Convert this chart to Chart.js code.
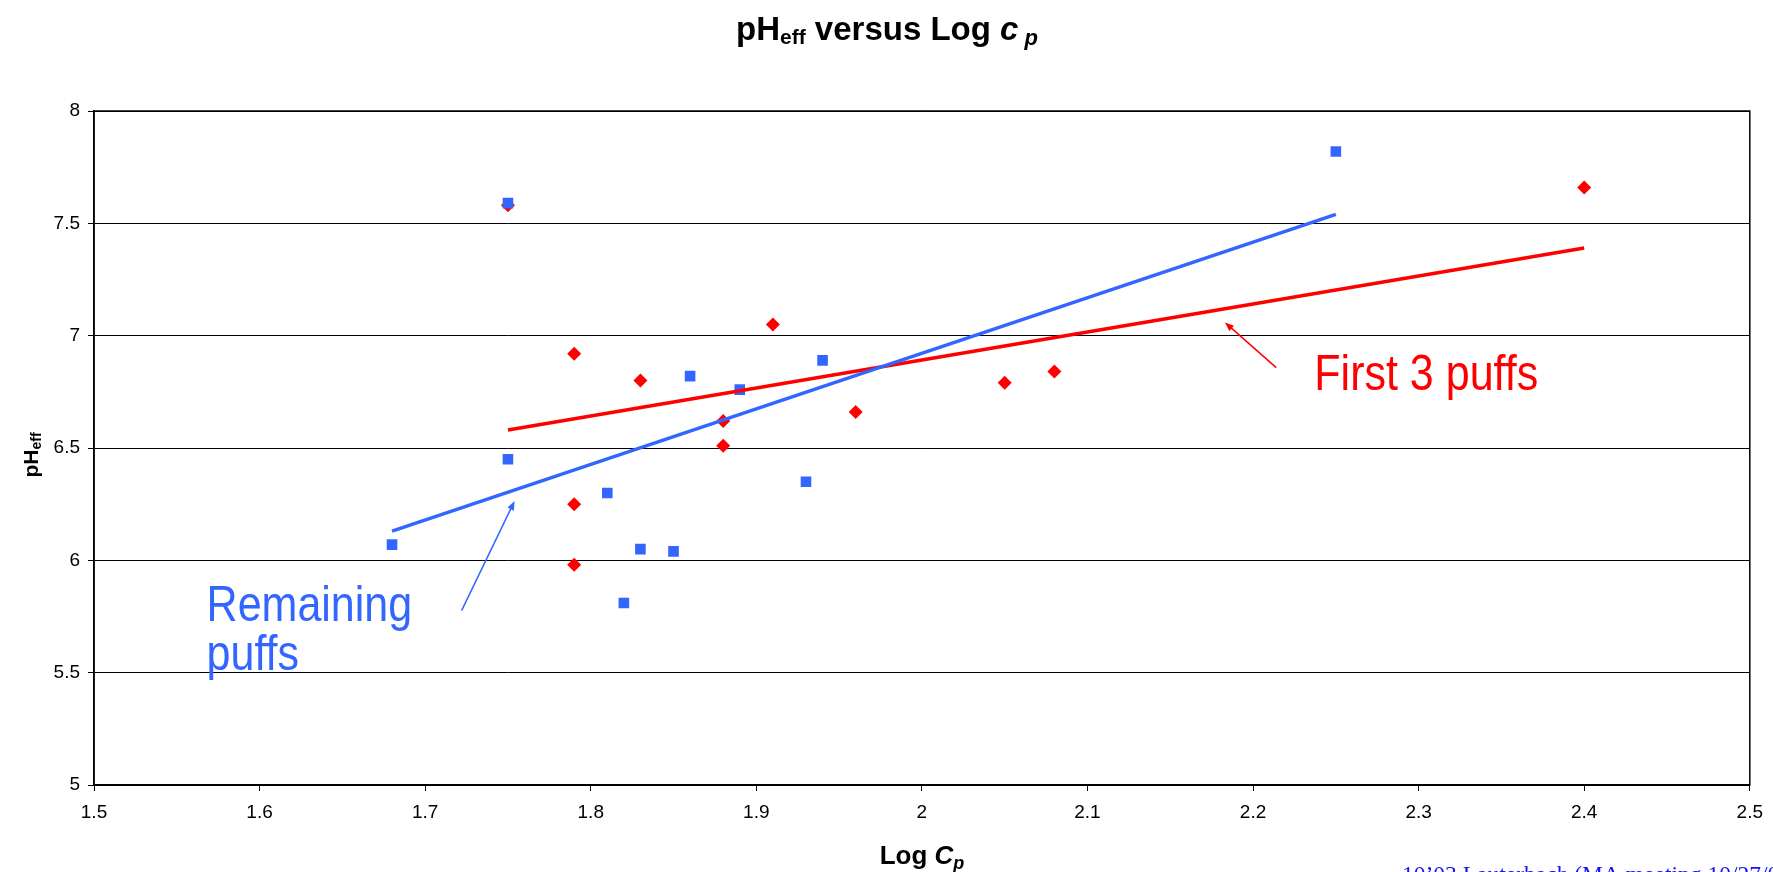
<!DOCTYPE html>
<html>
<head>
<meta charset="utf-8">
<script src="https://cdn.jsdelivr.net/npm/chart.js@4"></script>
<style>
    html, body { margin: 0; padding: 0; background: #fff; }
    #box { width: 1773px; height: 872px; position: relative; }
</style>
</head>
<body>
<div id="box"><canvas id="chart1"></canvas></div>
<script>
// remaining puffs (blue squares)
const remaining_x = [1.68, 1.75, 1.75, 1.81, 1.82, 1.83, 1.85, 1.86, 1.89, 1.93, 1.94, 2.25];
const remaining_y = [6.07, 7.59, 6.45, 6.30, 5.81, 6.05, 6.04, 6.82, 6.76, 6.35, 6.89, 7.82];
// first 3 puffs (red diamonds)
const first3_x = [1.75, 1.79, 1.79, 1.79, 1.83, 1.88, 1.88, 1.91, 1.96, 2.05, 2.08, 2.40];
const first3_y = [7.58, 6.92, 6.25, 5.98, 6.80, 6.62, 6.51, 7.05, 6.66, 6.79, 6.84, 7.66];
// trend lines (end points)
const remaining_trend_x = [1.68, 2.25];
const remaining_trend_y = [6.13, 7.54];
const first3_trend_x = [1.75, 2.40];
const first3_trend_y = [6.58, 7.39];
// axis ticks
const x_min = 1.5, x_max = 2.5, x_step = 0.1;
const y_min = 5, y_max = 8, y_step = 0.5;

const BLUE = 'rgb(51, 102, 255)';
const RED = 'rgb(255, 0, 0)';
const SANS = '"Liberation Sans", Arial, sans-serif';

function to_points(xs, ys) {
    let pts = [];
    for (let i = 0; i < xs.length; i++) {
        pts.push({ x: xs[i], y: ys[i] });
    }
    return pts;
}

// draws a run of [text, font, baseline shift] pieces, centred on cx
function draw_rich(ctx, parts, cx, cy) {
    let total = 0;
    for (const p of parts) {
        ctx.font = p[1];
        total += ctx.measureText(p[0]).width;
    }
    let x = cx - total / 2;
    ctx.textAlign = 'left';
    ctx.textBaseline = 'alphabetic';
    for (const p of parts) {
        ctx.font = p[1];
        ctx.fillText(p[0], x, cy + p[2]);
        x += ctx.measureText(p[0]).width;
    }
}

function arrow(ctx, x1, y1, x2, y2, color) {
    const ang = Math.atan2(y2 - y1, x2 - x1);
    ctx.strokeStyle = color;
    ctx.fillStyle = color;
    ctx.lineWidth = 1.5;
    ctx.beginPath();
    ctx.moveTo(x1, y1);
    ctx.lineTo(x2 - 6 * Math.cos(ang), y2 - 6 * Math.sin(ang));
    ctx.stroke();
    ctx.beginPath();
    ctx.moveTo(x2, y2);
    ctx.lineTo(x2 - 9 * Math.cos(ang) + 3.5 * Math.sin(ang), y2 - 9 * Math.sin(ang) - 3.5 * Math.cos(ang));
    ctx.lineTo(x2 - 9 * Math.cos(ang) - 3.5 * Math.sin(ang), y2 - 9 * Math.sin(ang) + 3.5 * Math.cos(ang));
    ctx.closePath();
    ctx.fill();
}

function condensed_text(ctx, text, x, y, size, color) {
    ctx.save();
    ctx.translate(x, y);
    ctx.scale(0.86, 1);
    ctx.font = size + 'px ' + SANS;
    ctx.fillStyle = color;
    ctx.textAlign = 'left';
    ctx.textBaseline = 'alphabetic';
    ctx.fillText(text, 0, 0);
    ctx.restore();
}

const extras = {
    id: 'extras',
    afterDraw(chart) {
        const ctx = chart.ctx;
        const a = chart.chartArea;
        const xs = chart.scales.x;
        const ys = chart.scales.y;
        ctx.save();
        // plot frame
        ctx.strokeStyle = '#000';
        ctx.lineWidth = 1.5;
        ctx.strokeRect(a.left, a.top, a.right - a.left, a.bottom - a.top);

        ctx.fillStyle = '#000';
        // title
        draw_rich(ctx, [
            ['pH', 'bold 33px ' + SANS, 0],
            ['eff', 'bold 21px ' + SANS, 4],
            [' versus Log ', 'bold 33px ' + SANS, 0],
            ['c', 'italic bold 33px ' + SANS, 0],
            [' p', 'italic bold 22px ' + SANS, 5]
        ], 887, 40);
        // x axis title
        draw_rich(ctx, [
            ['Log ', 'bold 26px ' + SANS, 0],
            ['C', 'italic bold 26px ' + SANS, 0],
            ['p', 'italic bold 18px ' + SANS, 5]
        ], 922, 864);
        // y axis title
        ctx.save();
        ctx.translate(38, 455);
        ctx.rotate(-Math.PI / 2);
        draw_rich(ctx, [
            ['pH', 'bold 21px ' + SANS, 0],
            ['eff', 'bold 14px ' + SANS, 3]
        ], 0, 0);
        ctx.restore();

        // annotations
        condensed_text(ctx, 'First 3 puffs', xs.getPixelForValue(2.237), ys.getPixelForValue(6.757), 50, RED);
        condensed_text(ctx, 'Remaining', xs.getPixelForValue(1.568), ys.getPixelForValue(5.73), 50, BLUE);
        condensed_text(ctx, 'puffs', xs.getPixelForValue(1.568), ys.getPixelForValue(5.51), 50, BLUE);
        arrow(ctx, xs.getPixelForValue(2.214), ys.getPixelForValue(6.858), xs.getPixelForValue(2.183), ys.getPixelForValue(7.059), RED);
        arrow(ctx, xs.getPixelForValue(1.722), ys.getPixelForValue(5.776), xs.getPixelForValue(1.754), ys.getPixelForValue(6.264), BLUE);

        // footer
        ctx.font = '23.5px "Liberation Serif", "Times New Roman", serif';
        ctx.fillStyle = 'rgb(20, 20, 235)';
        ctx.textAlign = 'left';
        ctx.fillText('10\u201903 Lauterbach (MA meeting 10/27/03)', 1402, 882);
        ctx.restore();
    }
};

function chart1() {
    const ctx = document.getElementById('chart1');
    new Chart(ctx, {
        type: 'scatter',
        data: {
            datasets: [{
                label: 'Remaining puffs trend',
                type: 'line',
                data: to_points(remaining_trend_x, remaining_trend_y),
                borderColor: BLUE,
                borderWidth: 3.5,
                pointRadius: 0,
                fill: false,
                order: 0
            }, {
                label: 'First 3 puffs trend',
                type: 'line',
                data: to_points(first3_trend_x, first3_trend_y),
                borderColor: RED,
                borderWidth: 3.5,
                pointRadius: 0,
                fill: false,
                order: 1
            }, {
                label: 'Remaining puffs',
                data: to_points(remaining_x, remaining_y),
                pointStyle: 'rect',
                pointRadius: 7.5,
                pointBorderWidth: 0,
                backgroundColor: BLUE,
                borderColor: BLUE,
                order: 2
            }, {
                label: 'First 3 puffs',
                data: to_points(first3_x, first3_y),
                pointStyle: 'rectRot',
                pointRadius: 7,
                pointBorderWidth: 0,
                backgroundColor: RED,
                borderColor: RED,
                order: 3
            }]
        },
        options: {
            responsive: true,
            maintainAspectRatio: false,
            animation: {
                duration: 0
            },
            layout: {
                padding: { top: 111, right: 18, bottom: 0, left: 0 }
            },
            plugins: {
                legend: { display: false },
                tooltip: { enabled: false }
            },
            scales: {
                x: {
                    type: 'linear',
                    min: x_min,
                    max: x_max,
                    ticks: {
                        stepSize: x_step,
                        color: '#000',
                        font: { family: SANS, size: 19 },
                        padding: 10,
                        maxRotation: 0,
                        callback: (v) => Number(v.toFixed(1)).toString()
                    },
                    grid: {
                        drawOnChartArea: false,
                        drawTicks: true,
                        tickLength: 6,
                        color: '#000'
                    },
                    border: { color: '#000', width: 1.5 },
                    afterFit: (scale) => { scale.height = 87; }
                },
                y: {
                    min: y_min,
                    max: y_max,
                    ticks: {
                        stepSize: y_step,
                        color: '#000',
                        font: { family: SANS, size: 19 },
                        padding: 8,
                        callback: (v) => Number(v.toFixed(1)).toString()
                    },
                    grid: {
                        color: '#000',
                        lineWidth: 1,
                        tickLength: 6
                    },
                    border: { color: '#000', width: 1.5 },
                    afterFit: (scale) => { scale.width = 94; }
                }
            }
        },
        plugins: [extras]
    });
}

chart1();
</script>
</body>
</html>
